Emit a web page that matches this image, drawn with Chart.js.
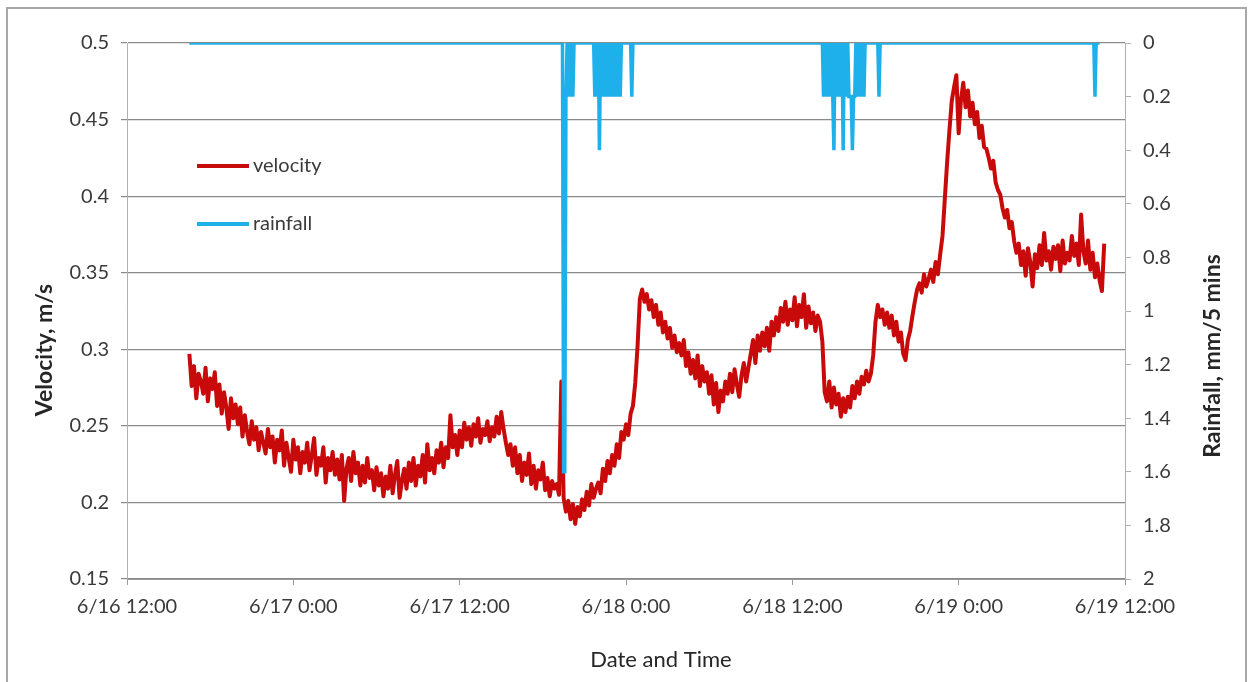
<!DOCTYPE html>
<html>
<head>
<meta charset="utf-8">
<script src="https://cdn.jsdelivr.net/npm/chart.js@4.4.1/dist/chart.umd.min.js"></script>
<style>
  html, body { margin: 0; padding: 0; background: #fff; overflow: hidden; }
  canvas { display: block; }
</style>
</head>
<body>
<canvas id="chart" width="1250" height="682"></canvas>
<script>
// Tick labels for the time axis, one every 12 hours starting 6/16 12:00
const xTickLabels = ['6/16 12:00', '6/17 0:00', '6/17 12:00', '6/18 0:00', '6/18 12:00', '6/19 0:00', '6/19 12:00'];

// Velocity readings (m/s), one every 10 minutes from 6/16 16:30 (4.5 h after 6/16 12:00)
const velocityStartHour = 4.5;
const velocityStepHours = 1 / 6;
const velocity = [
  0.297, 0.276, 0.289,
  0.268, 0.284, 0.279, 0.271, 0.288, 0.266,
  0.281, 0.274, 0.285, 0.263, 0.277, 0.258,
  0.272, 0.262, 0.248, 0.268, 0.255, 0.264,
  0.251, 0.262, 0.243, 0.257, 0.246, 0.238,
  0.253, 0.241, 0.249, 0.234, 0.246, 0.239,
  0.232, 0.248, 0.236, 0.243, 0.226, 0.241,
  0.234, 0.247, 0.224, 0.239, 0.229, 0.220,
  0.241, 0.228, 0.236, 0.219, 0.233, 0.226,
  0.239, 0.221, 0.231, 0.242, 0.218, 0.229,
  0.224, 0.236, 0.213, 0.229, 0.221, 0.233,
  0.218, 0.228, 0.215, 0.231, 0.201, 0.222,
  0.229, 0.214, 0.233, 0.219, 0.226, 0.211,
  0.224, 0.213, 0.229, 0.216, 0.221, 0.208,
  0.223, 0.211, 0.219, 0.204, 0.217, 0.209,
  0.224, 0.206, 0.218, 0.227, 0.203, 0.214,
  0.222, 0.209, 0.226, 0.214, 0.229, 0.211,
  0.224, 0.217, 0.231, 0.213, 0.238, 0.221,
  0.229, 0.219, 0.234, 0.226, 0.239, 0.223,
  0.236, 0.229, 0.257, 0.236, 0.244, 0.231,
  0.247, 0.236, 0.252, 0.241, 0.249, 0.237,
  0.251, 0.243, 0.255, 0.239, 0.248, 0.244,
  0.253, 0.240, 0.249, 0.243, 0.256, 0.245,
  0.259, 0.248, 0.239, 0.231, 0.238, 0.224,
  0.236, 0.219, 0.231, 0.214, 0.226, 0.218,
  0.232, 0.212, 0.224, 0.209, 0.221, 0.215,
  0.226, 0.208, 0.216, 0.204, 0.214, 0.209,
  0.212, 0.205, 0.279, 0.203, 0.194, 0.201,
  0.189, 0.199, 0.186, 0.197, 0.191, 0.202,
  0.195, 0.207, 0.198, 0.212, 0.203, 0.209,
  0.213, 0.206, 0.222, 0.214, 0.227, 0.219,
  0.231, 0.224, 0.238, 0.229, 0.246, 0.241,
  0.251, 0.244, 0.258, 0.263, 0.278, 0.302,
  0.333, 0.339, 0.331, 0.336, 0.326, 0.332,
  0.321, 0.329, 0.316, 0.324, 0.311, 0.318,
  0.307, 0.314, 0.301, 0.309, 0.298, 0.304,
  0.296, 0.306, 0.289, 0.298, 0.284, 0.293,
  0.281, 0.296, 0.276, 0.289, 0.279, 0.285,
  0.271, 0.283, 0.264, 0.278, 0.259, 0.273,
  0.266, 0.279, 0.271, 0.284, 0.272, 0.287,
  0.277, 0.269, 0.283, 0.291, 0.279, 0.288,
  0.297, 0.306, 0.291, 0.309, 0.299, 0.311,
  0.302, 0.314, 0.299, 0.318, 0.309, 0.321,
  0.312, 0.327, 0.318, 0.331, 0.316, 0.326,
  0.319, 0.334, 0.315, 0.329, 0.321, 0.336,
  0.314, 0.328, 0.317, 0.324, 0.312, 0.322,
  0.318, 0.305, 0.272, 0.266, 0.279, 0.262,
  0.275, 0.264, 0.271, 0.256, 0.268, 0.259,
  0.269, 0.262, 0.276, 0.268, 0.279, 0.271,
  0.282, 0.277, 0.286, 0.279, 0.284, 0.296,
  0.318, 0.329, 0.321, 0.326, 0.316, 0.324,
  0.314, 0.322, 0.309, 0.318, 0.305, 0.311,
  0.297, 0.293, 0.306, 0.312, 0.322, 0.331,
  0.339, 0.343, 0.337, 0.349, 0.341, 0.346,
  0.352, 0.344, 0.357, 0.349, 0.362, 0.374,
  0.398, 0.422, 0.443, 0.462, 0.471, 0.479,
  0.441, 0.463, 0.474, 0.458, 0.469, 0.452,
  0.461, 0.447, 0.455, 0.438, 0.446, 0.432,
  0.431, 0.425, 0.418, 0.423, 0.409, 0.404,
  0.401, 0.392, 0.386, 0.391, 0.379, 0.383,
  0.371, 0.363, 0.369, 0.355, 0.364, 0.348,
  0.366, 0.357, 0.341, 0.362, 0.353, 0.368,
  0.355, 0.376, 0.358, 0.364, 0.352, 0.367,
  0.359, 0.368, 0.351, 0.371, 0.356, 0.363,
  0.358, 0.374, 0.361, 0.369, 0.355, 0.388,
  0.364, 0.356, 0.371, 0.352, 0.363, 0.347,
  0.356, 0.345, 0.338, 0.369
];

// Rain gauge: 5-minute intervals counted from 6/16 12:00; intervals not listed recorded 0 mm
const rainFirstInterval = 54;
const rainLastInterval = 842;
const rainIntervals = [
  378, 379, 380, 382, 384, 386,
  405, 407, 409, 411, 413, 415, 417, 419, 421, 423, 425, 427,
  437,
  603, 605, 607, 609, 611, 612, 614, 616, 618, 620, 622, 625, 626, 627, 628, 629, 630, 632, 634, 636, 638,
  651,
  838
];
const rainMm = [
  1.6, 1.6, 0.2, 0.2, 0.2, 0.2,
  0.2, 0.2, 0.4, 0.2, 0.2, 0.2, 0.2, 0.2, 0.2, 0.2, 0.2, 0.2,
  0.2,
  0.2, 0.2, 0.2, 0.2, 0.2, 0.4, 0.2, 0.2, 0.2, 0.4, 0.2, 0.2, 0.2, 0.2, 0.4, 0.2, 0.2, 0.2, 0.2, 0.2, 0.2,
  0.2,
  0.2
];

const xAxisTitle = 'Date and Time';
const leftAxisTitle = 'Velocity, m/s';
const rightAxisTitle = 'Rainfall, mm/5 mins';

// Build the point lists the line datasets need
const velocityPoints = velocity.map((v, i) => ({ x: velocityStartHour + i * velocityStepHours, y: v }));
const rainByInterval = new Map(rainIntervals.map((k, i) => [k, rainMm[i]]));
const rainPoints = [];
for (let k = rainFirstInterval; k <= rainLastInterval; k++) {
  rainPoints.push({ x: k / 12, y: rainByInterval.has(k) ? rainByInterval.get(k) : 0 });
}

const FONT = 'Lato, "Open Sans", sans-serif';
Chart.defaults.font.family = FONT;
Chart.defaults.font.size = 20;
Chart.defaults.color = '#3a3a3a';

// White page with a thin grey frame
const framePlugin = {
  id: 'frame',
  beforeDraw(chart) {
    const { ctx, width, height } = chart;
    ctx.save();
    ctx.fillStyle = '#ffffff';
    ctx.fillRect(0, 0, width, height);
    ctx.strokeStyle = '#a8a8a8';
    ctx.lineWidth = 2;
    ctx.strokeRect(7, 8, 1239, 720);
    ctx.restore();
  }
};

// Axis titles
const axisTitlePlugin = {
  id: 'axisTitles',
  afterDraw(chart) {
    const { ctx } = chart;
    ctx.save();
    ctx.fillStyle = '#262626';
    ctx.textAlign = 'center';
    ctx.textBaseline = 'middle';
    ctx.font = '22px ' + FONT;
    ctx.fillText(xAxisTitle, 661, 660);

    ctx.font = 'bold 23px ' + FONT;
    ctx.save();
    ctx.translate(45, 350);
    ctx.rotate(-Math.PI / 2);
    ctx.fillText(leftAxisTitle, 0, 0);
    ctx.restore();

    ctx.save();
    ctx.translate(1213, 356);
    ctx.rotate(-Math.PI / 2);
    ctx.fillText(rightAxisTitle, 0, 0);
    ctx.restore();
    ctx.restore();
  }
};

// Legend drawn inside the plot, one row per dataset
const insideLegendPlugin = {
  id: 'insideLegend',
  afterDraw(chart) {
    const { ctx, chartArea: a } = chart;
    const rows = [
      { ds: chart.data.datasets[0], y: a.top + 123 },
      { ds: chart.data.datasets[1], y: a.top + 181 }
    ];
    ctx.save();
    ctx.font = '20px ' + FONT;
    ctx.textAlign = 'left';
    ctx.textBaseline = 'middle';
    rows.forEach(r => {
      ctx.strokeStyle = r.ds.borderColor;
      ctx.lineWidth = 4;
      ctx.lineCap = 'butt';
      ctx.beginPath();
      ctx.moveTo(a.left + 70, r.y);
      ctx.lineTo(a.left + 122, r.y);
      ctx.stroke();
      ctx.fillStyle = '#3a3a3a';
      ctx.fillText(r.ds.label, a.left + 126, r.y);
    });
    ctx.restore();
  }
};

new Chart(document.getElementById('chart'), {
  type: 'line',
  data: {
    datasets: [
      {
        label: 'velocity',
        data: velocityPoints,
        yAxisID: 'y',
        borderColor: '#c80a0a',
        borderWidth: 4,
        borderJoinStyle: 'round',
        pointRadius: 0,
        tension: 0,
        order: 2
      },
      {
        label: 'rainfall',
        data: rainPoints,
        yAxisID: 'y2',
        borderColor: '#1eb0ea',
        borderWidth: 3.5,
        pointRadius: 0,
        tension: 0,
        order: 1
      }
    ]
  },
  options: {
    responsive: false,
    animation: false,
    devicePixelRatio: 1,
    layout: { padding: { top: 43, left: 0, right: 0, bottom: 0 } },
    plugins: {
      legend: { display: false },
      tooltip: { enabled: false }
    },
    scales: {
      x: {
        type: 'linear',
        min: 0,
        max: 72,
        afterFit(s) { s.height = 103; },
        ticks: {
          stepSize: 12,
          padding: 10,
          maxRotation: 0,
          autoSkip: false,
          callback: (v) => xTickLabels[Math.round(v / 12)]
        },
        grid: { drawOnChartArea: false, drawTicks: true, tickLength: 6, color: '#9a9a9a' },
        border: { display: true, color: '#9a9a9a', width: 1 }
      },
      y: {
        type: 'linear',
        position: 'left',
        min: 0.15,
        max: 0.5,
        afterFit(s) { s.width = 127; },
        ticks: {
          stepSize: 0.05,
          padding: 12,
          callback: (v) => String(Number(v.toFixed(2)))
        },
        grid: { color: '#8a8a8a', lineWidth: 1.2, tickLength: 6 },
        border: { display: true, color: '#b0b0b0', width: 1 }
      },
      y2: {
        type: 'linear',
        position: 'right',
        min: 0,
        max: 2,
        reverse: true,
        afterFit(s) { s.width = 125; },
        ticks: {
          stepSize: 0.2,
          padding: 12,
          callback: (v) => String(Number(v.toFixed(1)))
        },
        grid: { drawOnChartArea: false, tickLength: 6, color: '#b0b0b0' },
        border: { display: true, color: '#b0b0b0', width: 1 }
      }
    }
  },
  plugins: [framePlugin, axisTitlePlugin, insideLegendPlugin]
});
</script>
</body>
</html>
